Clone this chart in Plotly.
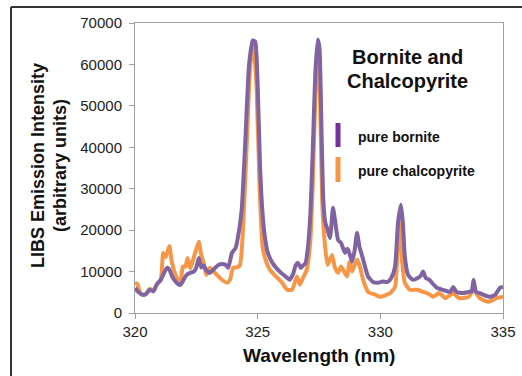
import plotly.graph_objects as go

# Wavelength (nm) and intensity (arbitrary units)
wl_bornite = [320.0, 320.15, 320.3, 320.45, 320.6, 320.75, 320.9, 321.05, 321.15, 321.3, 321.4, 321.5,
              321.6, 321.75, 321.85, 322.0, 322.1, 322.25, 322.4, 322.5, 322.6, 322.7, 322.8, 322.9,
              323.05, 323.2, 323.4, 323.55, 323.7, 323.8, 323.95, 324.1, 324.2, 324.35, 324.5, 324.65,
              324.8, 324.9, 325.0, 325.1, 325.2, 325.3, 325.4, 325.6, 325.9, 326.2, 326.3, 326.45,
              326.55, 326.65, 326.75, 326.85, 326.95, 327.05, 327.15, 327.25, 327.35, 327.45, 327.52,
              327.6, 327.67, 327.75, 327.85, 327.95, 328.07, 328.15, 328.28, 328.4, 328.56, 328.65,
              328.72, 328.85, 328.95, 329.05, 329.15, 329.3, 329.5, 329.7, 329.9, 330.1, 330.3, 330.45,
              330.6, 330.72, 330.84, 330.92, 331.0, 331.13, 331.33, 331.54, 331.65, 331.74, 331.85,
              332.0, 332.15, 332.3, 332.55, 332.85, 332.97, 333.1, 333.37, 333.6, 333.72, 333.8, 333.9,
              334.05, 334.2, 334.45, 334.68, 334.88, 335.0]
int_bornite = [6000, 5000, 4400, 4600, 5600, 5200, 7000, 8000, 9200, 10900, 10500, 9000,
               8000, 7000, 6800, 8200, 9200, 9700, 10000, 11000, 13300, 11000, 11500, 10400,
               9700, 10500, 11600, 11800, 11600, 10900, 14500, 15700, 18400, 25000, 42000, 60000,
               65800, 65500, 55000, 35000, 24000, 18100, 14800, 12100, 10000, 8500, 8000, 9500,
               11500, 12100, 10900, 11500, 12000, 16000, 24000, 40000, 58000, 66000, 64000,
               45000, 28000, 22000, 20100, 18100, 25400, 22500, 17600, 16900, 14500, 15500,
               14800, 12400, 15000, 19300, 16000, 12900, 8800, 7500, 7300, 7600, 7500, 8500,
               11200, 21700, 26100, 21700, 13500, 9200, 8000, 8500, 9000, 10000, 8500,
               8000, 7000, 6100, 5600, 5100, 6300, 5100, 4800, 5100, 5200, 8000, 5100,
               4800, 4400, 3900, 4400, 6100, 6300]

wl_chalco = [320.0, 320.1, 320.2, 320.3, 320.45, 320.6, 320.75, 320.9, 321.05, 321.15, 321.25, 321.4,
             321.5, 321.7, 321.85, 321.95, 322.05, 322.15, 322.25, 322.45, 322.6, 322.7, 322.8, 322.9,
             323.05, 323.26, 323.45, 323.75, 323.87, 324.0, 324.15, 324.28, 324.4, 324.55, 324.7,
             324.82, 324.95, 325.08, 325.2, 325.3, 325.5, 325.8, 326.0, 326.2, 326.4, 326.6, 326.72,
             326.85, 327.0, 327.15, 327.25, 327.35, 327.46, 327.55, 327.63, 327.75, 327.85, 328.03,
             328.15, 328.28, 328.4, 328.64, 328.75, 328.85, 329.05, 329.15, 329.3, 329.5, 329.8, 330.0,
             330.4, 330.6, 330.72, 330.8, 330.88, 331.0, 331.2, 331.5, 331.74, 332.0, 332.15, 332.4,
             332.65, 332.97, 333.2, 333.6, 333.8, 334.05, 334.4, 334.75, 335.0]
int_chalco = [7300, 7000, 5000, 4400, 4600, 5800, 5500, 7000, 8000, 14500, 13500, 16200,
              12400, 8500, 7500, 11200, 11200, 13300, 10800, 14500, 17200, 14000, 12000, 9200,
              10900, 9700, 8500, 7300, 8000, 10900, 11000, 11600, 20000, 40000, 60000,
              64600, 55000, 30000, 16000, 13300, 10400, 8500, 7300, 5600, 5600, 8800, 6800,
              8500, 10400, 17600, 32000, 52000, 64500, 50000, 27000, 16000, 11600, 14000,
              10900, 9700, 11200, 8800, 12400, 10000, 12900, 11500, 8000, 5100, 4400, 3900,
              4800, 6300, 17600, 21700, 13000, 7300, 5600, 5600, 5100, 4500, 3900, 4800,
              3600, 4800, 3600, 3900, 5600, 3600, 2700, 3600, 3900]

x_ticks = [320, 325, 330, 335]
y_ticks = [0, 10000, 20000, 30000, 40000, 50000, 60000, 70000]
y_tick_labels = ["0", "10000", "20000", "30000", "40000", "50000", "60000", "70000"]

title_lines = ["Bornite and", "Chalcopyrite"]
series_names = ["pure chalcopyrite", "pure bornite"]
y_title_lines = ["LIBS Emission Intensity", "(arbitrary units)"]
x_title = "Wavelength (nm)"

FONT = "Liberation Sans, Arial, sans-serif"
PURPLE = "#8064A2"
ORANGE = "#F79646"

fig = go.Figure()
fig.add_trace(go.Scatter(x=wl_chalco, y=int_chalco, mode="lines", name=series_names[0],
                         line=dict(color=ORANGE, width=4, shape="spline", smoothing=0.5)))
fig.add_trace(go.Scatter(x=wl_bornite, y=int_bornite, mode="lines", name=series_names[1],
                         line=dict(color=PURPLE, width=4, shape="spline", smoothing=0.5)))

W, H = 522, 376
L, R, T, B = 135, 19, 23, 63
pw, ph = W - L - R, H - T - B


def px(xp):
    return (xp - L) / pw


def py(yp):
    return (H - B - yp) / ph


annotations = [
    dict(text="<b>%s</b>" % title_lines[0], x=px(407), y=py(57.5), font=dict(size=20)),
    dict(text="<b>%s</b>" % title_lines[1], x=px(407), y=py(80.5), font=dict(size=20)),
    dict(text="<b>%s</b>" % series_names[1], x=px(356), y=py(137), xanchor="left", font=dict(size=14)),
    dict(text="<b>%s</b>" % series_names[0], x=px(356), y=py(171), xanchor="left", font=dict(size=14)),
    dict(text="<b>%s</b>" % y_title_lines[0], x=px(38), y=py(166), textangle=-90, font=dict(size=18)),
    dict(text="<b>%s</b>" % y_title_lines[1], x=px(60), y=py(166), textangle=-90, font=dict(size=18)),
    dict(text="<b>%s</b>" % x_title, x=px(319), y=py(355), font=dict(size=19)),
]
for a in annotations:
    a.setdefault("xanchor", "center")
    a.update(xref="paper", yref="paper", yanchor="middle", showarrow=False)
    a["font"].update(family=FONT, color="#111111")

shapes = [
    # outer frame (top and left edges)
    dict(type="line", xref="paper", yref="paper", x0=px(11), x1=px(W + 2), y0=py(7), y1=py(7),
         line=dict(color="#333333", width=2)),
    dict(type="line", xref="paper", yref="paper", x0=px(11), x1=px(11), y0=py(7), y1=py(H + 2),
         line=dict(color="#333333", width=2)),
    # legend markers
    dict(type="line", xref="paper", yref="paper", x0=px(338), x1=px(338), y0=py(123), y1=py(147),
         line=dict(color="#7030A0", width=5)),
    dict(type="line", xref="paper", yref="paper", x0=px(338), x1=px(338), y0=py(157), y1=py(182),
         line=dict(color=ORANGE, width=5)),
]

fig.update_layout(
    width=W, height=H,
    margin=dict(l=L, r=R, t=T, b=B, autoexpand=False),
    paper_bgcolor="white", plot_bgcolor="white",
    showlegend=False,
    font=dict(family=FONT, size=15, color="#222222"),
    annotations=annotations,
    shapes=shapes,
)
fig.update_xaxes(range=[320, 335], tickvals=x_ticks, ticks="outside", ticklen=5, tickcolor="#A0A0A0",
                 showline=True, linecolor="#A0A0A0", linewidth=1, mirror=True, showgrid=False,
                 zeroline=False, tickfont=dict(size=15), automargin=False)
fig.update_yaxes(range=[0, 70000], tickvals=y_ticks, ticktext=y_tick_labels, ticks="outside", ticklen=5,
                 tickcolor="#A0A0A0", showline=True, linecolor="#A0A0A0", linewidth=1, mirror=True,
                 showgrid=False, zeroline=False, tickfont=dict(size=15), ticklabelstandoff=4,
                 automargin=False)

fig.write_html("out.html")
